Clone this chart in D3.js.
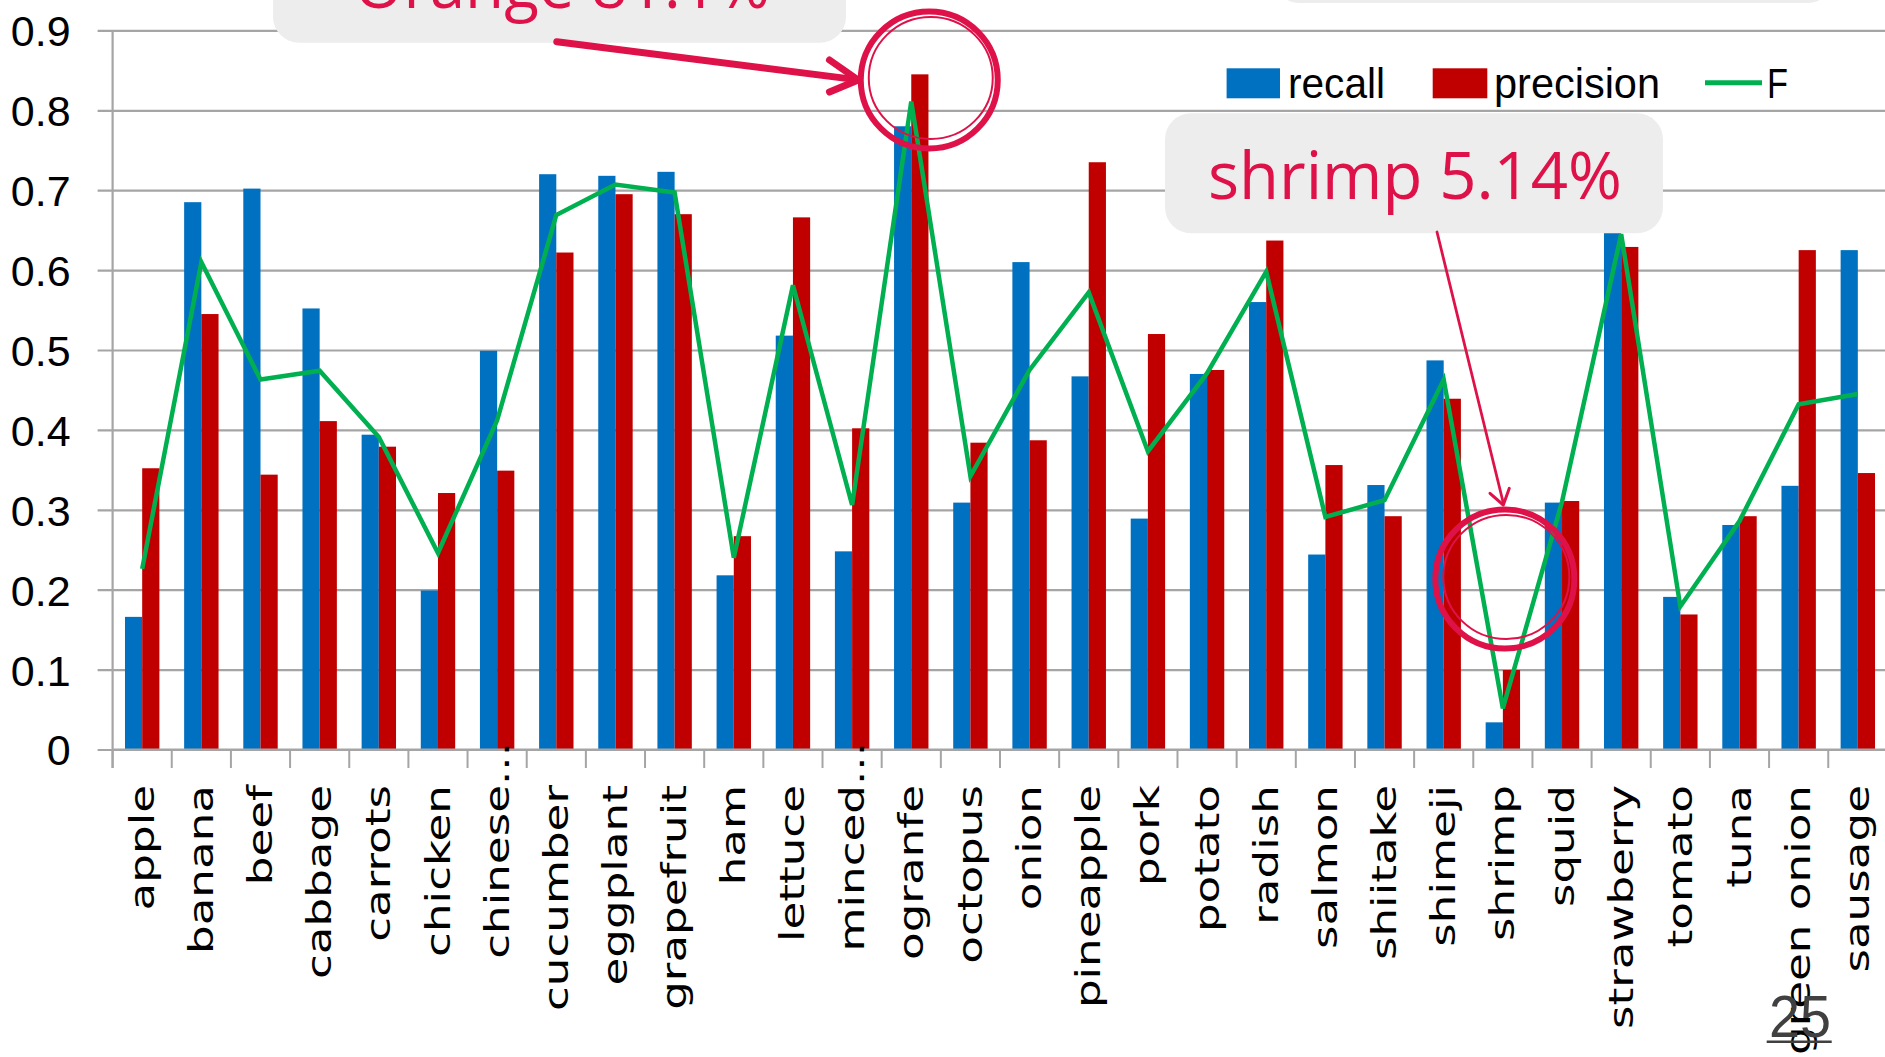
<!DOCTYPE html>
<html>
<head>
<meta charset="utf-8">
<script src="https://cdn.jsdelivr.net/npm/d3@7/dist/d3.min.js"></script>
<style>
  html, body { margin: 0; padding: 0; background: #ffffff; overflow: hidden; }
  svg { display: block; }
</style>
</head>
<body>
<svg id="chart" width="1885" height="1057"></svg>
<script>
// Food categories on the x axis (truncated names keep their ellipsis)
const categories = [
  "apple", "banana", "beef", "cabbage", "carrots", "chicken", "chinese...",
  "cucumber", "eggplant", "grapefruit", "ham", "lettuce", "minced...",
  "ogranfe", "octopus", "onion", "pineapple", "pork", "potato", "radish",
  "salmon", "shiitake", "shimeji", "shrimp", "squid", "strawberry",
  "tomato", "tuna", "green onion", "sausage"
];

// Per-category scores
const recall = [
  0.166, 0.685, 0.702, 0.552, 0.394, 0.199, 0.499, 0.720, 0.718, 0.723,
  0.218, 0.518, 0.248, 0.780, 0.309, 0.610, 0.467, 0.289, 0.470, 0.560,
  0.244, 0.331, 0.487, 0.034, 0.309, 0.662, 0.191, 0.281, 0.330, 0.625
];
const precision = [
  0.352, 0.545, 0.344, 0.411, 0.379, 0.321, 0.349, 0.622, 0.695, 0.670,
  0.267, 0.666, 0.402, 0.845, 0.384, 0.387, 0.735, 0.520, 0.475, 0.637,
  0.356, 0.292, 0.439, 0.0995, 0.311, 0.629, 0.169, 0.292, 0.625, 0.346
];
const fScore = [
  0.226, 0.610, 0.463, 0.474, 0.391, 0.246, 0.412, 0.669, 0.707, 0.697,
  0.240, 0.581, 0.306, 0.811, 0.342, 0.475, 0.572, 0.373, 0.471, 0.598,
  0.291, 0.312, 0.463, 0.0514, 0.310, 0.645, 0.179, 0.286, 0.432, 0.445
];

const yTicks = [0, 0.1, 0.2, 0.3, 0.4, 0.5, 0.6, 0.7, 0.8, 0.9];
const seriesNames = ["recall", "precision", "F"];

// Highlighted categories in the callouts
const callouts = [
  { category: "ogranfe", text: "Orange 81.1%" },
  { category: "shrimp", text: "shrimp 5.14%" }
];

const COLORS = { recall: "#0070C0", precision: "#C00000", F: "#00B050" };
const ACCENT = "#DE1248";
const GRID = "#A5A5A5";

const W = 1885, H = 1057;
const axisX = 112.6, bandW = 59.16;
const svg = d3.select("#chart");

const x = d3.scaleBand()
  .domain(categories)
  .range([axisX, axisX + categories.length * bandW])
  .paddingInner(0).paddingOuter(0);

const y = d3.scaleLinear().domain([0, 0.9]).range([749.5, 30.4]);

const barW = 17.2;
const xSub = d3.scaleBand()
  .domain(["recall", "precision"])
  .range([x.bandwidth() / 2 - barW, x.bandwidth() / 2 + barW]);

// Horizontal gridlines (extend a little left of the axis as tick marks)
const gridG = svg.append("g")
  .attr("transform", `translate(${W},0)`)
  .call(d3.axisLeft(y).tickValues(yTicks).tickSize(W - 97.6).tickFormat(""));
gridG.select(".domain").remove();
gridG.selectAll("line").attr("stroke", GRID).attr("stroke-width", 2.2);

// Y tick labels
const yLab = svg.append("g")
  .attr("transform", `translate(97.6,0)`)
  .call(d3.axisLeft(y).tickValues(yTicks).tickSize(0).tickPadding(27)
    .tickFormat(d => d === 0 ? "0" : d3.format(".1f")(d)));
yLab.select(".domain").remove();
yLab.selectAll("text")
  .attr("font-family", "'Liberation Sans', Arial, sans-serif")
  .attr("font-size", 43)
  .attr("fill", "#000")
  .attr("dy", "0.36em");

// Bars
const rows = categories.map((c, i) => ({ c, recall: recall[i], precision: precision[i], F: fScore[i] }));
const groups = svg.append("g").selectAll("g").data(rows).join("g")
  .attr("transform", d => `translate(${x(d.c)},0)`);
groups.selectAll("rect")
  .data(d => ["recall", "precision"].map(k => ({ k, v: d[k] })))
  .join("rect")
  .attr("x", d => xSub(d.k))
  .attr("width", xSub.bandwidth())
  .attr("y", d => y(d.v))
  .attr("height", d => y(0) - y(d.v))
  .attr("fill", d => COLORS[d.k]);

// Axes lines
svg.append("line").attr("x1", axisX).attr("x2", axisX).attr("y1", y(0.9)).attr("y2", 768)
  .attr("stroke", GRID).attr("stroke-width", 2.2);
svg.append("line").attr("x1", axisX).attr("x2", W).attr("y1", y(0)).attr("y2", y(0))
  .attr("stroke", GRID).attr("stroke-width", 2.2);
svg.append("g").selectAll("line").data(categories).join("line")
  .attr("x1", d => x(d)).attr("x2", d => x(d))
  .attr("y1", y(0)).attr("y2", 768)
  .attr("stroke", GRID).attr("stroke-width", 2);

// F line
const line = d3.line()
  .x(d => x(d.c) + x.bandwidth() / 2)
  .y(d => y(d.F));
svg.append("path").datum(rows)
  .attr("d", line)
  .attr("fill", "none")
  .attr("stroke", COLORS.F)
  .attr("stroke-width", 4.5)
  .attr("stroke-linejoin", "miter");

// Category labels, rotated and stretched along the reading direction
const labelEnd = 785;
const labG = svg.append("g")
  .attr("font-family", "'DejaVu Sans', Verdana, sans-serif")
  .attr("font-size", 33)
  .attr("fill", "#000");
categories.forEach(c => {
  const cx = x(c) + x.bandwidth() / 2;
  const base = c.endsWith("...") ? c.slice(0, -3) : c;
  const t = `translate(${cx},${labelEnd}) rotate(-90) scale(1.37,1)`;
  labG.append("text").attr("transform", t).attr("dy", "0.35em")
    .attr("text-anchor", "end").text(base);
  if (base !== c) {
    labG.append("text").attr("transform", t).attr("dy", "0.35em")
      .attr("text-anchor", "start").text("...");
  }
});

// Legend
const legend = svg.append("g")
  .attr("font-family", "'Liberation Sans', Arial, sans-serif")
  .attr("font-size", 43).attr("fill", "#000");
legend.append("rect").attr("x", 1226.6).attr("y", 68.3).attr("width", 53.4).attr("height", 30).attr("fill", COLORS.recall);
legend.append("text").attr("x", 1288).attr("y", 97.7).attr("textLength", 97).attr("lengthAdjust", "spacingAndGlyphs").text(seriesNames[0]);
legend.append("rect").attr("x", 1432.7).attr("y", 68.3).attr("width", 54.6).attr("height", 30).attr("fill", COLORS.precision);
legend.append("text").attr("x", 1494).attr("y", 97.7).attr("textLength", 166).attr("lengthAdjust", "spacingAndGlyphs").text(seriesNames[1]);
legend.append("line").attr("x1", 1705).attr("x2", 1762).attr("y1", 82.7).attr("y2", 82.7)
  .attr("stroke", COLORS.F).attr("stroke-width", 5);
legend.append("text").attr("x", 1767).attr("y", 97.7).attr("textLength", 21).attr("lengthAdjust", "spacingAndGlyphs").text(seriesNames[2]);

// Callout boxes
const boxes = svg.append("g");
boxes.append("rect").attr("x", 1275).attr("y", -100).attr("width", 557).attr("height", 103)
  .attr("rx", 24).attr("fill", "#EDEDED");
boxes.append("rect").attr("x", 273).attr("y", -78).attr("width", 573).attr("height", 120.7)
  .attr("rx", 26).attr("fill", "#EDEDED");
boxes.append("rect").attr("x", 1165).attr("y", 113.3).attr("width", 498).attr("height", 120)
  .attr("rx", 26).attr("fill", "#EDEDED");

const calloutText = svg.append("g")
  .attr("font-family", "'Open Sans', sans-serif")
  .attr("font-size", 65).attr("fill", ACCENT);
calloutText.append("text").attr("x", 354).attr("y", 7.5)
  .attr("textLength", 416).attr("lengthAdjust", "spacingAndGlyphs").text(callouts[0].text);
calloutText.append("text").attr("x", 1208).attr("y", 198.8)
  .attr("textLength", 414).attr("lengthAdjust", "spacingAndGlyphs").text(callouts[1].text);

// Ring markers around the highlighted F points
function ring(cx, cy, r) {
  const g = svg.append("g").attr("fill", "none").attr("stroke", ACCENT);
  g.append("ellipse").attr("cx", cx).attr("cy", cy).attr("rx", r).attr("ry", r)
    .attr("stroke-width", 6);
  g.append("ellipse").attr("cx", cx + 1.5).attr("cy", cy - 2).attr("rx", r - 6.5).attr("ry", r - 7.5)
    .attr("stroke-width", 2);
}
const orangeIdx = categories.indexOf(callouts[0].category);
const shrimpIdx = categories.indexOf(callouts[1].category);
const oX = x(categories[orangeIdx]) + x.bandwidth() / 2;
const sX = x(categories[shrimpIdx]) + x.bandwidth() / 2;
ring(oX + 18, 80, 68.5);
ring(sX + 2, 579, 69.5);

// Arrows from the callouts to the rings
const arrows = svg.append("g").attr("fill", "none").attr("stroke", ACCENT)
  .attr("stroke-linecap", "round").attr("stroke-linejoin", "round");
arrows.append("path").attr("d", "M556.8,41.7 L856,79.6").attr("stroke-width", 7);
arrows.append("path").attr("d", "M829.5,60 L858.2,80 L829.5,92").attr("stroke-width", 7);
arrows.append("path").attr("d", "M1437,232 L1503.3,503").attr("stroke-width", 2.8);
arrows.append("path").attr("d", "M1490,493.3 L1503.3,505 L1509.3,488.3").attr("stroke-width", 3);

// Slide number
svg.append("text").attr("x", 1769).attr("y", 1036.5)
  .attr("font-family", "'Liberation Sans', Arial, sans-serif")
  .attr("font-size", 60).attr("fill", "#404040")
  .attr("textLength", 62).attr("lengthAdjust", "spacingAndGlyphs").text("25");
svg.append("line").attr("x1", 1766.7).attr("x2", 1831.7).attr("y1", 1041.7).attr("y2", 1041.7)
  .attr("stroke", "#404040").attr("stroke-width", 2.5);
</script>
</body>
</html>
